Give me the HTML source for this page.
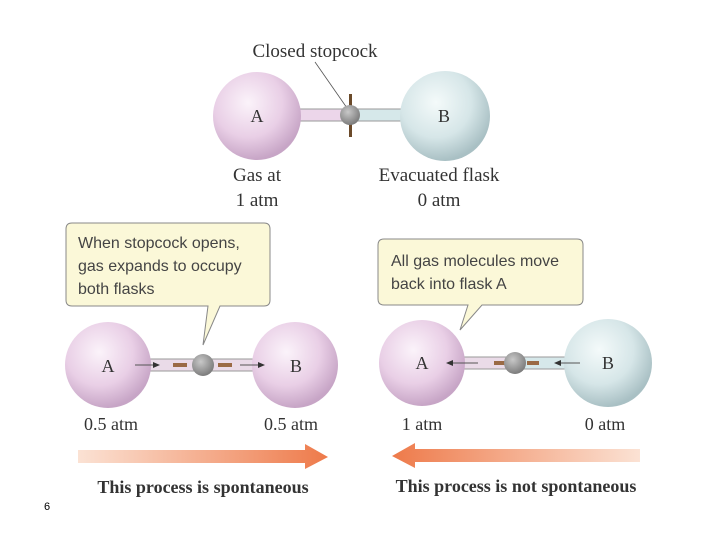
<!DOCTYPE html>
<html><head><meta charset="utf-8"><style>
html,body{margin:0;padding:0;background:#fff;}
svg{display:block;}
.s{font-family:"Liberation Serif",serif;fill:#333;}
.c{font-family:"Liberation Sans",sans-serif;fill:#444;font-size:16px;}
</style></head><body>
<svg width="720" height="540" viewBox="0 0 720 540" xmlns="http://www.w3.org/2000/svg">
<defs>
<radialGradient id="pa" cx="0.4" cy="0.35" r="0.65"><stop offset="0" stop-color="#fbf3fa"/><stop offset="0.6" stop-color="#e9cfe6"/><stop offset="1" stop-color="#c7a5c6"/></radialGradient>
<radialGradient id="pb" cx="0.4" cy="0.35" r="0.65"><stop offset="0" stop-color="#f4fafa"/><stop offset="0.6" stop-color="#d6e6e8"/><stop offset="1" stop-color="#a9c0c4"/></radialGradient>
<radialGradient id="sc" cx="0.4" cy="0.35" r="0.7"><stop offset="0" stop-color="#c8c8c8"/><stop offset="1" stop-color="#777"/></radialGradient>
<linearGradient id="ar" x1="0" x2="1"><stop offset="0" stop-color="#fbe2d4"/><stop offset="1" stop-color="#ee7a4a"/></linearGradient>
<linearGradient id="al" x1="1" x2="0"><stop offset="0" stop-color="#fbe2d4"/><stop offset="1" stop-color="#ee7a4a"/></linearGradient>
</defs>

<!-- top -->
<text class="s" x="315" y="57" font-size="19" text-anchor="middle">Closed stopcock</text>
<line x1="315" y1="62" x2="347" y2="108" stroke="#555" stroke-width="0.8"/>
<rect x="295" y="109" width="55" height="12" fill="#ecd6ea" stroke="#999" stroke-width="1"/>
<rect x="350" y="109" width="55" height="12" fill="#d6e8ea" stroke="#999" stroke-width="1"/>
<rect x="349" y="94" width="3" height="43" fill="#6b4a2a"/>
<circle cx="350" cy="115" r="10" fill="url(#sc)"/>
<circle cx="257" cy="116" r="44" fill="url(#pa)"/>
<circle cx="445" cy="116" r="45" fill="url(#pb)"/>
<text class="s" x="257" y="122" font-size="18" text-anchor="middle">A</text>
<text class="s" x="444" y="122" font-size="18" text-anchor="middle">B</text>
<text class="s" x="257" y="181" font-size="19" text-anchor="middle">Gas at</text>
<text class="s" x="257" y="206" font-size="19" text-anchor="middle">1 atm</text>
<text class="s" x="439" y="181" font-size="19" text-anchor="middle">Evacuated flask</text>
<text class="s" x="439" y="206" font-size="19" text-anchor="middle">0 atm</text>

<!-- left callout -->
<path d="M72,223 H264 Q270,223 270,229 V300 Q270,306 264,306 H220 L203,345 L208,306 H72 Q66,306 66,300 V229 Q66,223 72,223 Z" fill="#fbf8d8" stroke="#888" stroke-width="1"/>
<text class="c" x="78" y="248">When stopcock opens,</text>
<text class="c" x="78" y="271">gas expands to occupy</text>
<text class="c" x="78" y="294">both flasks</text>
<rect x="145" y="359" width="120" height="12" fill="#eadbe8" stroke="#999"/>
<rect x="173" y="363" width="14" height="4" fill="#9a6a45"/>
<rect x="218" y="363" width="14" height="4" fill="#9a6a45"/>
<circle cx="203" cy="365" r="11" fill="url(#sc)"/>
<circle cx="108" cy="365" r="43" fill="url(#pa)"/>
<circle cx="295" cy="365" r="43" fill="url(#pa)"/>
<line x1="135" y1="365" x2="158" y2="365" stroke="#555"/><path d="M153,362 L160,365 L153,368Z" fill="#333"/>
<line x1="240" y1="365" x2="263" y2="365" stroke="#555"/><path d="M258,362 L265,365 L258,368Z" fill="#333"/>
<text class="s" x="108" y="372" font-size="18" text-anchor="middle">A</text>
<text class="s" x="296" y="372" font-size="18" text-anchor="middle">B</text>
<text class="s" x="111" y="430" font-size="18" text-anchor="middle">0.5 atm</text>
<text class="s" x="291" y="430" font-size="18" text-anchor="middle">0.5 atm</text>

<!-- right callout -->
<path d="M384,239 H577 Q583,239 583,245 V299 Q583,305 577,305 H482 L460,330 L468,305 H384 Q378,305 378,299 V245 Q378,239 384,239 Z" fill="#fbf8d8" stroke="#888" stroke-width="1"/>
<text class="c" x="391" y="266">All gas molecules move</text>
<text class="c" x="391" y="289">back into flask A</text>
<rect x="460" y="357" width="55" height="12" fill="#eadbe8" stroke="#999"/>
<rect x="515" y="357" width="60" height="12" fill="#d6e8ea" stroke="#999"/>
<rect x="494" y="361" width="12" height="4" fill="#9a6a45"/>
<rect x="527" y="361" width="12" height="4" fill="#9a6a45"/>
<circle cx="515" cy="363" r="11" fill="url(#sc)"/>
<circle cx="422" cy="363" r="43" fill="url(#pa)"/>
<circle cx="608" cy="363" r="44" fill="url(#pb)"/>
<line x1="448" y1="363" x2="478" y2="363" stroke="#555"/><path d="M453,360 L446,363 L453,366Z" fill="#333"/>
<line x1="555" y1="363" x2="580" y2="363" stroke="#555"/><path d="M561,360 L554,363 L561,366Z" fill="#333"/>
<text class="s" x="422" y="369" font-size="18" text-anchor="middle">A</text>
<text class="s" x="608" y="369" font-size="18" text-anchor="middle">B</text>
<text class="s" x="422" y="430" font-size="18" text-anchor="middle">1 atm</text>
<text class="s" x="605" y="430" font-size="18" text-anchor="middle">0 atm</text>

<!-- arrows -->
<path d="M78,450 H305 V444 L328,457 L305,469 V463 H78 Z" fill="url(#ar)"/>
<path d="M640,449 H415 V443 L392,456 L415,468 V462 H640 Z" fill="url(#al)"/>
<text class="s" x="203" y="493" font-size="18" font-weight="bold" text-anchor="middle" fill="#222">This process is spontaneous</text>
<text class="s" x="516" y="492" font-size="18" font-weight="bold" text-anchor="middle" fill="#222">This process is not spontaneous</text>
<text x="44" y="510" font-family="Liberation Sans,sans-serif" font-size="11" fill="#000">6</text>
</svg>
</body></html>
